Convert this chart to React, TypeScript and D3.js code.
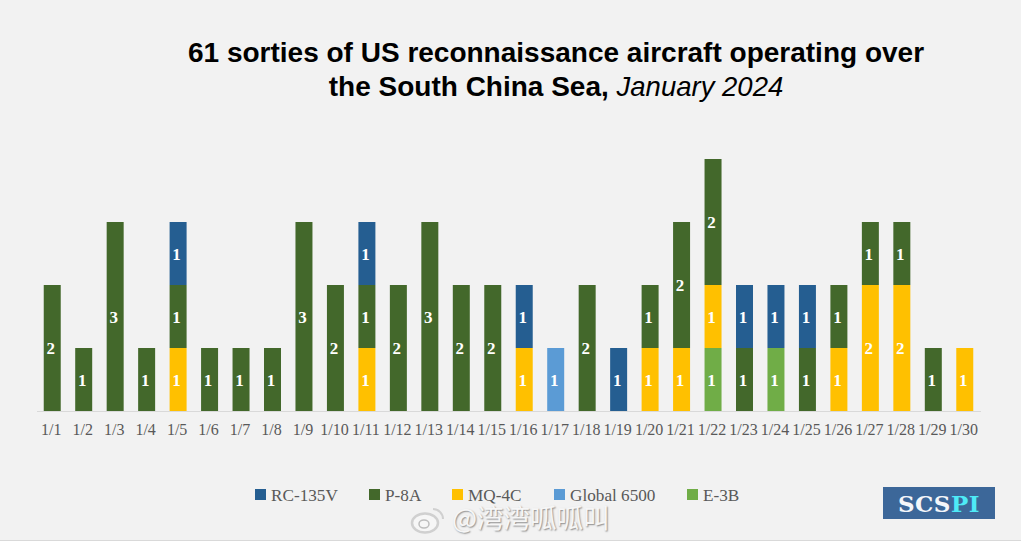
import { useRef, useEffect } from "react";
import * as d3 from "d3";

const days = ["1/1","1/2","1/3","1/4","1/5","1/6","1/7","1/8","1/9","1/10","1/11","1/12","1/13","1/14","1/15","1/16","1/17","1/18","1/19","1/20","1/21","1/22","1/23","1/24","1/25","1/26","1/27","1/28","1/29","1/30"];

// sorties per day
const e3b =    [0,0,0,0,0,0,0,0,0,0,0,0,0,0,0,0,0,0,0,0,0,1,0,1,0,0,0,0,0,0];
const global = [0,0,0,0,0,0,0,0,0,0,0,0,0,0,0,0,1,0,0,0,0,0,0,0,0,0,0,0,0,0];
const mq4c =   [0,0,0,0,1,0,0,0,0,0,1,0,0,0,0,1,0,0,0,1,1,1,0,0,0,1,2,2,0,1];
const p8a =    [2,1,3,1,1,1,1,1,3,2,1,2,3,2,2,0,0,2,0,1,2,2,1,0,1,1,1,1,1,0];
const rc135 =  [0,0,0,0,1,0,0,0,0,0,1,0,0,0,0,1,0,0,1,0,0,0,1,1,1,0,0,0,0,0];

const stackKeys = ["E-3B", "Global 6500", "MQ-4C", "P-8A", "RC-135V"];
const stackValues = [e3b, global, mq4c, p8a, rc135];
const colors = ["#70ad47", "#5b9bd5", "#ffc000", "#43682b", "#255e91"];
const legendOrder = ["RC-135V", "P-8A", "MQ-4C", "Global 6500", "E-3B"];
const legendX = [255, 369, 452, 554, 687];

const width = 1024;
const height = 544;
const serif = "'Liberation Serif', serif";
const sans = "'Liberation Sans', Arial, sans-serif";

export default function App() {
  const svgRef = useRef<SVGSVGElement | null>(null);

  useEffect(() => {
    const svg = d3.select(svgRef.current);
    svg.selectAll("*").remove();

    svg.append("rect").attr("width", width).attr("height", height).attr("fill", "#f2f2f2");
    // photo edge at the bottom and right
    svg.append("rect").attr("x", 0).attr("y", 540).attr("width", width).attr("height", 4).attr("fill", "#ffffff");
    svg.append("line").attr("x1", 0).attr("x2", width).attr("y1", 540.5).attr("y2", 540.5).attr("stroke", "#d9d9d9");
    svg.append("rect").attr("x", 1021).attr("y", 0).attr("width", 3).attr("height", 541).attr("fill", "#ffffff");

    // title
    const title = svg.append("text").attr("text-anchor", "middle").attr("font-family", sans)
      .attr("font-size", 28).attr("fill", "#000");
    title.append("tspan").attr("x", 556).attr("y", 62).attr("font-weight", "bold")
      .text("61 sorties of US reconnaissance aircraft operating over");
    const line2 = title.append("tspan").attr("x", 556).attr("y", 96);
    line2.append("tspan").attr("font-weight", "bold").text("the South China Sea, ");
    line2.append("tspan").attr("font-style", "italic").attr("font-size", 27.5).text("January 2024");

    const x = d3.scaleBand<string>().domain(days).range([36.5, 980.5]).paddingInner(0.46).paddingOuter(0.23);
    const y = d3.scaleLinear().domain([0, 4]).range([411, 159]);

    const rows = days.map((d, i) => {
      const row: Record<string, any> = { day: d };
      stackKeys.forEach((k, j) => { row[k] = stackValues[j][i]; });
      return row;
    });
    const series = d3.stack<any>().keys(stackKeys)(rows);

    const groups = svg.append("g").selectAll("g").data(series).join("g")
      .attr("fill", (_, i) => colors[i]);

    groups.selectAll("rect").data(s => s.filter(d => d[1] > d[0])).join("rect")
      .attr("x", d => x(d.data.day) as number)
      .attr("y", d => y(d[1]))
      .attr("width", x.bandwidth())
      .attr("height", d => y(d[0]) - y(d[1]));

    groups.selectAll("text").data(s => s.filter(d => d[1] > d[0])).join("text")
      .attr("x", d => (x(d.data.day) as number) + x.bandwidth() / 2 - 1.5)
      .attr("y", d => (y(d[0]) + y(d[1])) / 2 + 6)
      .attr("text-anchor", "middle")
      .attr("font-family", serif)
      .attr("font-weight", "bold")
      .attr("font-size", 17)
      .attr("fill", "#ffffff")
      .text(d => d[1] - d[0]);

    // axis
    const axis = svg.append("g").attr("transform", "translate(0,411)").call(d3.axisBottom(x).tickSize(0).tickPadding(13));
    axis.select(".domain").attr("stroke", "#d9d9d9");
    axis.selectAll("text").attr("font-family", serif).attr("font-size", 16).attr("fill", "#595959").attr("dx", -1);

    // legend
    const legend = svg.append("g").selectAll("g").data(legendOrder).join("g")
      .attr("transform", (_, i) => `translate(${legendX[i]},489)`);
    legend.append("rect").attr("width", 11).attr("height", 11)
      .attr("fill", d => colors[stackKeys.indexOf(d)]);
    legend.append("text").attr("x", 16).attr("y", 12).attr("font-family", serif)
      .attr("font-size", 17.2).attr("fill", "#595959").text(d => d);

    // SCSPI badge
    svg.append("rect").attr("x", 883).attr("y", 487).attr("width", 112).attr("height", 32).attr("fill", "#3c6799");
    const badge = svg.append("text").attr("x", 939).attr("y", 512).attr("text-anchor", "middle")
      .attr("font-family", "'DejaVu Serif', serif").attr("font-weight", "bold").attr("font-size", 23).attr("letter-spacing", 0.5);
    badge.append("tspan").attr("fill", "#f4f6fa").text("SCS");
    badge.append("tspan").attr("fill", "#4eeaf7").text("PI");

    // weibo watermark
    const mark = svg.append("g").attr("fill", "none");
    mark.append("ellipse").attr("cx", 425).attr("cy", 523).attr("rx", 13).attr("ry", 9.5).attr("stroke-width", 2.5)
      .attr("fill", "#f6f6f6").attr("stroke", "#d0d0d0");
    mark.append("ellipse").attr("cx", 424).attr("cy", 524).attr("rx", 5).attr("ry", 4).attr("stroke-width", 1.5).attr("stroke", "#bdbdbd");
    mark.append("path").attr("d", d3.arc()({ innerRadius: 9, outerRadius: 11, startAngle: 0, endAngle: Math.PI / 2 }) as string)
      .attr("transform", "translate(433,519)").attr("fill", "#d0d0d0");
    svg.append("text").attr("x", 452).attr("y", 528).attr("font-family", "'Noto Sans CJK SC', sans-serif")
      .attr("font-size", 26.5).attr("fill", "#f6f6f6")
      .style("text-shadow", "1px 1px 1.5px #8c8c8c")
      .text("@湾湾呱呱叫");
  }, []);

  return <svg ref={svgRef} width={width} height={height} style={{ position: "absolute", top: 0, left: 0, display: "block" }} />;
}
